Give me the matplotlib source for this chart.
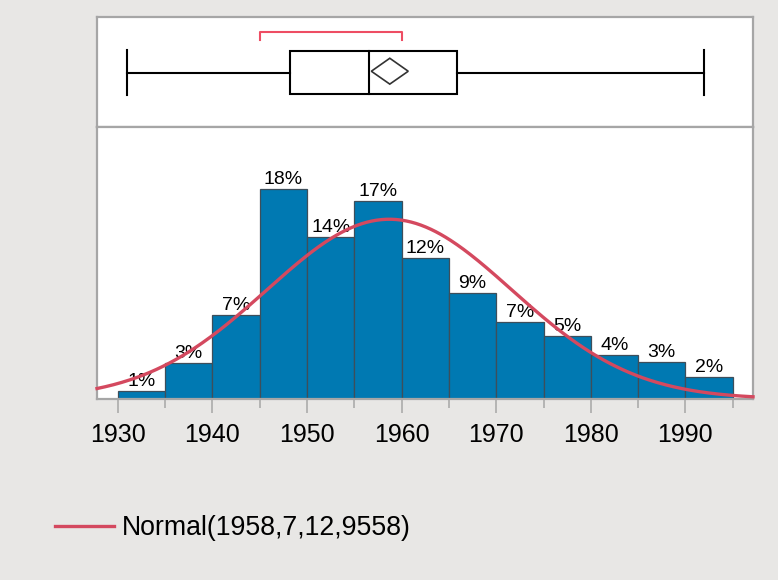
import numpy as np
import matplotlib
matplotlib.use("Agg")
import matplotlib.pyplot as plt
from matplotlib.patches import Rectangle, Polygon

plt.rcParams['font.family'] = ['Liberation Sans', 'DejaVu Sans']

# histogram bins (5-year wide) and share of observations in %
bin_left = [1930, 1935, 1940, 1945, 1950, 1955, 1960, 1965, 1970, 1975, 1980, 1985, 1990]
bin_width = 5
pct = [0.7, 3.1, 7.2, 18.0, 13.9, 17.0, 12.1, 9.1, 6.6, 5.4, 3.8, 3.2, 1.9]

# fitted normal
mu = 1958.7
sigma = 12.9558

# outlier box plot summary
whisker_lo = 1931.0
q1 = 1948.25
median = 1956.6
q3 = 1965.85
whisker_hi = 1992.0
mean_ci = [1956.8, 1960.7]
shortest_half = [1945.0, 1960.0]

xticks = [1930, 1940, 1950, 1960, 1970, 1980, 1990]
xlim = (1927.8, 1997.15)

bg = '#E8E7E5'
frame = '#A6A6A6'
bar_color = '#0079B2'
curve_color = '#D4495F'

fig = plt.figure(figsize=(7.78, 5.8), dpi=100, facecolor=bg)
ax_box = fig.add_axes([0.1247, 0.781, 0.8432, 0.1897])
ax = fig.add_axes([0.1247, 0.3121, 0.8432, 0.469])

for a in (ax_box, ax):
    a.set_facecolor('white')
    a.set_xlim(*xlim)
    for s in a.spines.values():
        s.set_color(frame)
        s.set_linewidth(1.6)

# --- box plot panel ---
ax_box.set_ylim(0, 1)
ax_box.set_xticks([])
ax_box.set_yticks([])
lw = 1.5
ax_box.add_patch(Rectangle((q1, 0.297), q3 - q1, 0.694 - 0.297, fill=False,
                           edgecolor='black', linewidth=lw))
ax_box.plot([median, median], [0.297, 0.694], color='black', lw=lw)
ax_box.plot([whisker_lo, q1], [0.495, 0.495], color='black', lw=lw)
ax_box.plot([q3, whisker_hi], [0.495, 0.495], color='black', lw=lw)
ax_box.plot([whisker_lo, whisker_lo], [0.29, 0.70], color='black', lw=lw)
ax_box.plot([whisker_hi, whisker_hi], [0.29, 0.70], color='black', lw=lw)
cx = (mean_ci[0] + mean_ci[1]) / 2
ax_box.add_patch(Polygon([(mean_ci[0], 0.507), (cx, 0.625), (mean_ci[1], 0.507), (cx, 0.39)],
                         closed=True, fill=False, edgecolor='#333333', linewidth=1.2))
ax_box.plot([shortest_half[0], shortest_half[0], shortest_half[1], shortest_half[1]],
            [0.79, 0.861, 0.861, 0.79], color='#EE4D63', lw=1.5)

# --- histogram panel ---
ax.bar(bin_left, pct, width=bin_width, align='edge', color=bar_color,
       edgecolor='#3E4E5A', linewidth=0.9, zorder=2)
for x0, p in zip(bin_left, pct):
    ax.annotate(f"{round(p)}%", (x0 + bin_width / 2, p), xytext=(0, 0.5),
                textcoords='offset points', ha='center', va='bottom',
                fontsize=14, color='black', zorder=3)

xs = np.linspace(xlim[0], xlim[1], 400)
dens = np.exp(-0.5 * ((xs - mu) / sigma) ** 2) / (sigma * np.sqrt(2 * np.pi)) * bin_width * 100
curve, = ax.plot(xs, dens, color=curve_color, lw=2.4, zorder=4, clip_on=False,
                 label='Normal(1958,7,12,9558)')

ax.set_ylim(0, 23.3)
ax.set_yticks([])
ax.set_xticks(xticks)
ax.set_xticks(np.arange(1935, 1996, 10), minor=True)
ax.tick_params(axis='x', which='major', length=10, width=1.1, color=frame,
               pad=7, labelsize=18, labelcolor='black')
ax.tick_params(axis='x', which='minor', length=6.5, width=1.1, color=frame)

fig.legend(handles=[curve], loc='center left', bbox_to_anchor=(0.0707, 0.0897),
           frameon=False, fontsize=19.2, handlelength=2.2, handletextpad=0.3,
           borderpad=0, borderaxespad=0)

fig.savefig('out.png', dpi=100, facecolor=bg)
